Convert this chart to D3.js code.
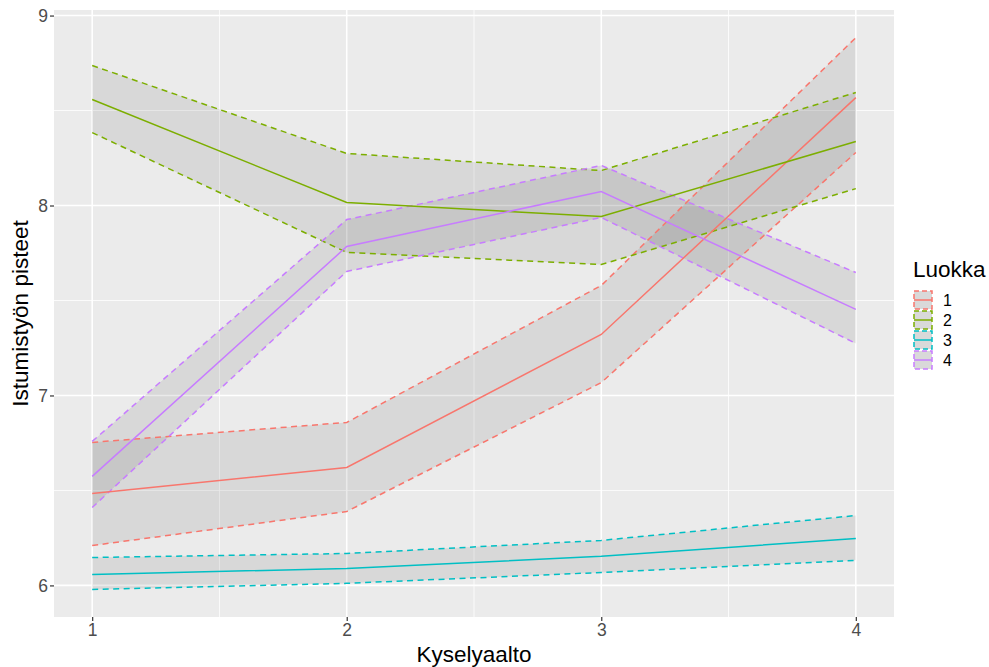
<!DOCTYPE html>
<html>
<head>
<meta charset="utf-8">
<script src="https://cdn.jsdelivr.net/npm/d3@7"></script>
<style>
  html, body { margin: 0; padding: 0; background: #fff; }
  svg { display: block; font-family: "Liberation Sans", Arial, sans-serif; }
</style>
</head>
<body>
<svg id="chart" width="989" height="667"></svg>
<script>
// ---- data ----
const waves = [1, 2, 3, 4];
const classes = ["1", "2", "3", "4"];
const colors = ["#F8766D", "#7CAE00", "#00BFC4", "#C77CFF"];
const meanValues = [
  [6.484, 6.621, 7.321, 8.568],
  [8.558, 8.016, 7.942, 8.337],
  [6.058, 6.089, 6.153, 6.247],
  [6.574, 7.784, 8.074, 7.453]
];
const upperValues = [
  [6.753, 6.858, 7.579, 8.884],
  [8.737, 8.274, 8.184, 8.595],
  [6.147, 6.168, 6.237, 6.368],
  [6.758, 7.926, 8.211, 7.647]
];
const lowerValues = [
  [6.210, 6.389, 7.068, 8.279],
  [8.384, 7.753, 7.689, 8.089],
  [5.979, 6.011, 6.068, 6.132],
  [6.410, 7.653, 7.937, 7.274]
];
const xTicks = [1, 2, 3, 4];
const xMinor = [1.5, 2.5, 3.5];
const yTicks = [6, 7, 8, 9];
const yMinor = [6.5, 7.5, 8.5];

// ---- layout ----
const svg = d3.select("#chart");
const P = { left: 54, right: 894, top: 10, bottom: 617 };

const allVals = upperValues.flat().concat(lowerValues.flat());
const yMin = d3.min(allVals), yMax = d3.max(allVals);
const yPad = (yMax - yMin) * 0.05;
const x = d3.scaleLinear().domain([1 - 0.15, 4 + 0.15]).range([P.left, P.right]);
const y = d3.scaleLinear().domain([yMin - yPad, yMax + yPad]).range([P.bottom, P.top]);

// panel background
svg.append("rect").attr("x", P.left).attr("y", P.top)
  .attr("width", P.right - P.left).attr("height", P.bottom - P.top)
  .attr("fill", "#EBEBEB");

const grid = svg.append("g");
yMinor.forEach(v => grid.append("line").attr("x1", P.left).attr("x2", P.right)
  .attr("y1", y(v)).attr("y2", y(v)).attr("stroke", "#fff").attr("stroke-width", 0.8));
xMinor.forEach(v => grid.append("line").attr("y1", P.top).attr("y2", P.bottom)
  .attr("x1", x(v)).attr("x2", x(v)).attr("stroke", "#fff").attr("stroke-width", 0.8));
yTicks.forEach(v => grid.append("line").attr("x1", P.left).attr("x2", P.right)
  .attr("y1", y(v)).attr("y2", y(v)).attr("stroke", "#fff").attr("stroke-width", 1.6));
xTicks.forEach(v => grid.append("line").attr("y1", P.top).attr("y2", P.bottom)
  .attr("x1", x(v)).attr("x2", x(v)).attr("stroke", "#fff").attr("stroke-width", 1.6));

// ribbons
const area = d3.area().x((d, i) => x(waves[i])).y0(d => y(d[0])).y1(d => y(d[1]));
const line = d3.line().x((d, i) => x(waves[i])).y(d => y(d));
const dash = "6,4.5";

classes.forEach((c, k) => {
  const band = waves.map((w, i) => [lowerValues[k][i], upperValues[k][i]]);
  svg.append("path").attr("d", area(band)).attr("fill", "#333").attr("fill-opacity", 0.1);
});
classes.forEach((c, k) => {
  [upperValues[k], lowerValues[k]].forEach(vals => {
    svg.append("path").attr("d", line(vals)).attr("fill", "none")
      .attr("stroke", colors[k]).attr("stroke-width", 1.5).attr("stroke-dasharray", dash);
  });
});
classes.forEach((c, k) => {
  svg.append("path").attr("d", line(meanValues[k])).attr("fill", "none")
    .attr("stroke", colors[k]).attr("stroke-width", 1.5);
});

// axes
const yAxis = d3.axisLeft(y).tickValues(yTicks).tickSize(4).tickPadding(2).tickFormat(d3.format("d"));
const gy = svg.append("g").attr("transform", `translate(${P.left},0)`).call(yAxis);
const xAxis = d3.axisBottom(x).tickValues(xTicks).tickSize(4).tickPadding(3).tickFormat(d3.format("d"));
const gx = svg.append("g").attr("transform", `translate(0,${P.bottom})`).call(xAxis);
[gx, gy].forEach(g => {
  g.select(".domain").remove();
  g.selectAll(".tick line").attr("stroke", "#333").attr("stroke-width", 1.2);
  g.selectAll(".tick text").attr("fill", "#4D4D4D").style("font-size", "17.5px")
    .style("font-family", "'Liberation Sans', Arial, sans-serif");
});

// axis titles
svg.append("text").attr("x", (P.left + P.right) / 2).attr("y", 662)
  .attr("text-anchor", "middle").style("font-size", "22.5px").attr("fill", "#000")
  .text("Kyselyaalto");
svg.append("text").attr("transform", `translate(28,${(P.top + P.bottom) / 2}) rotate(-90)`)
  .attr("text-anchor", "middle").style("font-size", "22.5px").attr("fill", "#000")
  .text("Istumistyön pisteet");

// legend
const lg = svg.append("g");
lg.append("text").attr("x", 913).attr("y", 277).style("font-size", "22.5px").attr("fill", "#000").text("Luokka");
classes.forEach((c, k) => {
  const ky = 290 + k * 20;
  lg.append("rect").attr("x", 914).attr("y", ky + 1).attr("width", 18).attr("height", 18)
    .attr("fill", "#D9D9D9").attr("stroke", colors[k]).attr("stroke-width", 1.5)
    .attr("stroke-dasharray", "5,3");
  lg.append("line").attr("x1", 914).attr("x2", 932).attr("y1", ky + 10).attr("y2", ky + 10)
    .attr("stroke", colors[k]).attr("stroke-width", 1.5);
  lg.append("text").attr("x", 943).attr("y", ky + 10).attr("dy", "0.36em")
    .style("font-size", "16px").attr("fill", "#000").text(c);
});
</script>
</body>
</html>
